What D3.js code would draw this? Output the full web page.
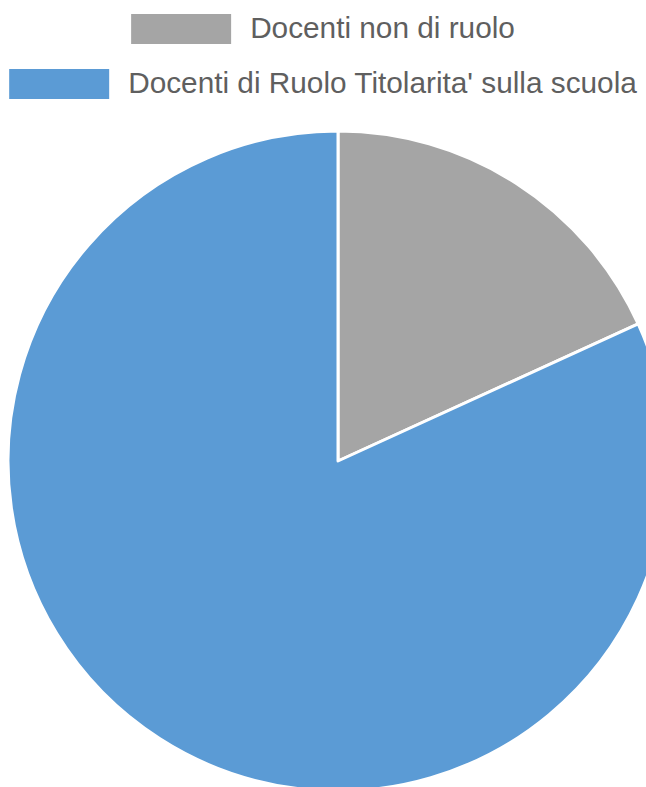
<!DOCTYPE html>
<html>
<head>
<meta charset="utf-8">
<script src="https://cdn.jsdelivr.net/npm/d3@7"></script>
<style>
  body { margin: 0; background: #fff; }
</style>
</head>
<body>
<div id="chart"></div>
<script>
// Data
const categories = ["Docenti non di ruolo", "Docenti di Ruolo Titolarita' sulla scuola"]
const values = [10, 45]
const colors = ["#a5a5a5", "#5b9bd5"]

const width = 646
const height = 787

const svg = d3.select('#chart')
  .append('svg')
  .attr('width', width)
  .attr('height', height)

// Legend
const legend = svg.append('g')
const items = legend.selectAll('g')
  .data(categories)
  .join('g')

items.append('rect')
  .attr('width', 100)
  .attr('height', 30)
  .attr('fill', (d, i) => colors[i])

const labels = items.append('text')
  .attr('fill', '#5f5f5f')
  .style('font-family', '"Liberation Sans", Arial, sans-serif')
  .style('font-size', '29px')
  .text(d => d)

// squeeze the text a bit to look like the narrow face
const longest = d3.max(labels.nodes(), n => n.getComputedTextLength())
const sx = 509 / longest
labels.attr('transform', `translate(119, 24) scale(${sx}, 1)`)

items.each(function(d, i) {
  const w = 119 + this.querySelector('text').getComputedTextLength() * sx
  d3.select(this).attr('transform', `translate(${(width - w) / 2}, ${14 + i * 55})`)
})

// Pie
const radius = 330
const ctr = svg.append('g')
  .attr('transform', `translate(338, 461)`)

const pie = d3.pie().sort(null).value(d => d)
const arc = d3.arc().innerRadius(0).outerRadius(radius)

ctr.selectAll('path')
  .data(pie(values))
  .join('path')
  .attr('d', arc)
  .attr('fill', (d, i) => colors[i])
  .attr('stroke', '#fff')
  .attr('stroke-width', 3)
  .attr('stroke-linejoin', 'round')
</script>
</body>
</html>
